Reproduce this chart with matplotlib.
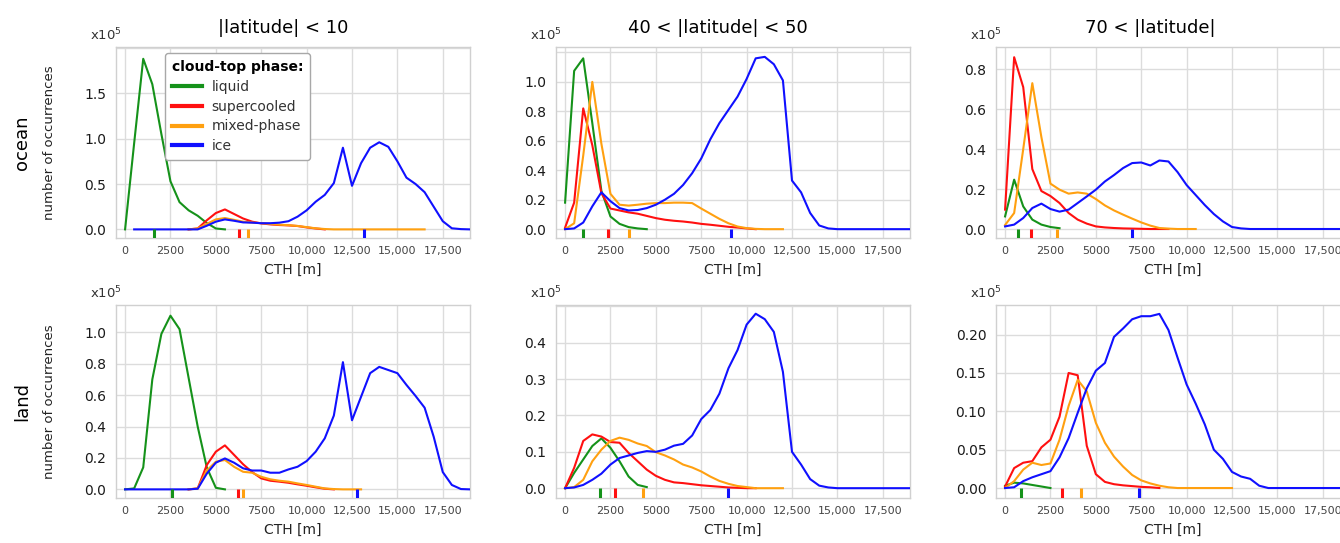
import matplotlib
matplotlib.use("Agg")
import matplotlib.pyplot as plt
import numpy as np
from matplotlib.lines import Line2D

plt.rcParams.update({
    "font.family": "DejaVu Sans",
    "axes.edgecolor": "#d0d0d0",
    "axes.linewidth": 1.0,
})

BIN = 500  # CTH bin width [m]
PHASES = ["liquid", "supercooled", "mixed-phase", "ice"]
COLORS = {"liquid": "#15921a", "supercooled": "#ff1010", "mixed-phase": "#ffa010", "ice": "#1010ff"}

COL_TITLES = ["|latitude| < 10", "40 < |latitude| < 50", "70 < |latitude|"]
ROW_NAMES = ["ocean", "land"]
XTICKS = [0, 2500, 5000, 7500, 10000, 12500, 15000, 17500]
XTICK_LABELS = ["0", "2500", "5000", "7500", "10,000", "12,500", "15,000", "17,500"]

# (first bin [m], occurrences per bin in units of 1e5)
ocean_eq = {
    "liquid": (0, [0, 0.95, 1.88, 1.60, 1.05, 0.53, 0.30, 0.21, 0.15, 0.07, 0.01, 0.0]),
    "supercooled": (3500, [0, 0.01, 0.10, 0.18, 0.22, 0.17, 0.12, 0.085, 0.066, 0.055, 0.048,
                           0.044, 0.037, 0.022, 0.01, 0.0]),
    "mixed-phase": (3500, [0, 0.01, 0.06, 0.11, 0.125, 0.105, 0.085, 0.075, 0.068, 0.06, 0.052,
                           0.046, 0.038, 0.025, 0.012, 0.004, 0, 0, 0, 0, 0, 0, 0, 0, 0, 0, 0]),
    "ice": (500, [0, 0, 0, 0, 0, 0, 0, 0, 0.04, 0.085, 0.11, 0.095, 0.077, 0.074, 0.068, 0.068,
                  0.074, 0.09, 0.14, 0.21, 0.305, 0.38, 0.51, 0.90, 0.48, 0.73, 0.90, 0.96, 0.91,
                  0.75, 0.57, 0.50, 0.41, 0.25, 0.09, 0.012, 0.003, 0.0]),
}
ocean_mid = {
    "liquid": (0, [0.18, 1.075, 1.16, 0.72, 0.26, 0.086, 0.036, 0.014, 0.005, 0.0]),
    "supercooled": (0, [0.01, 0.18, 0.82, 0.57, 0.245, 0.14, 0.127, 0.114, 0.105, 0.09, 0.075,
                        0.064, 0.057, 0.052, 0.045, 0.036, 0.03, 0.023, 0.016, 0.011, 0.005, 0.0]),
    "mixed-phase": (0, [0, 0.04, 0.5, 1.0, 0.58, 0.24, 0.166, 0.16, 0.166, 0.173, 0.177, 0.177,
                        0.18, 0.18, 0.177, 0.14, 0.105, 0.07, 0.04, 0.018, 0.007, 0.002, 0, 0, 0]),
    "ice": (0, [0, 0.005, 0.045, 0.155, 0.25, 0.19, 0.143, 0.127, 0.13, 0.143, 0.166, 0.2, 0.24,
                0.30, 0.38, 0.48, 0.61, 0.72, 0.81, 0.9, 1.02, 1.16, 1.17, 1.12, 1.01, 0.33, 0.25,
                0.11, 0.025, 0.005, 0, 0, 0, 0, 0, 0, 0, 0, 0]),
}
ocean_pol = {
    "liquid": (0, [0.063, 0.247, 0.113, 0.047, 0.022, 0.01, 0.004]),
    "supercooled": (0, [0.097, 0.86, 0.71, 0.30, 0.19, 0.165, 0.13, 0.08, 0.047, 0.027, 0.013,
                        0.008, 0.005, 0.003, 0.002, 0.001, 0.0, 0.0, 0.0]),
    "mixed-phase": (0, [0.02, 0.08, 0.40, 0.73, 0.46, 0.227, 0.197, 0.177, 0.183, 0.177, 0.15,
                        0.118, 0.093, 0.072, 0.052, 0.033, 0.017, 0.005, 0.002, 0.0, 0.0, 0.0]),
    "ice": (0, [0.013, 0.022, 0.055, 0.105, 0.127, 0.10, 0.087, 0.097, 0.13, 0.163, 0.197, 0.238,
                0.27, 0.305, 0.33, 0.333, 0.318, 0.343, 0.338, 0.285, 0.22, 0.17, 0.12, 0.075,
                0.038, 0.01, 0.003, 0, 0, 0, 0, 0, 0, 0, 0, 0, 0, 0, 0]),
}
land_eq = {
    "liquid": (0, [0, 0.006, 0.14, 0.70, 0.99, 1.106, 1.02, 0.71, 0.40, 0.14, 0.01, 0.0]),
    "supercooled": (3500, [0, 0.006, 0.155, 0.24, 0.28, 0.22, 0.16, 0.11, 0.07, 0.055, 0.049,
                           0.042, 0.032, 0.023, 0.013, 0.004, 0.0]),
    "mixed-phase": (3500, [0, 0.006, 0.12, 0.176, 0.187, 0.144, 0.112, 0.106, 0.08, 0.064, 0.055,
                           0.049, 0.038, 0.028, 0.017, 0.006, 0.002, 0.0, 0.0, 0.0]),
    "ice": (0, [0, 0, 0, 0, 0, 0, 0, 0, 0.004, 0.10, 0.17, 0.197, 0.17, 0.134, 0.12, 0.12, 0.106,
                0.106, 0.127, 0.144, 0.18, 0.24, 0.325, 0.47, 0.81, 0.44, 0.59, 0.74, 0.78, 0.76,
                0.74, 0.665, 0.595, 0.52, 0.335, 0.11, 0.028, 0.002, 0.0]),
}
land_mid = {
    "liquid": (0, [0, 0.042, 0.079, 0.116, 0.137, 0.111, 0.074, 0.032, 0.009, 0.003]),
    "supercooled": (0, [0, 0.056, 0.13, 0.148, 0.142, 0.127, 0.125, 0.097, 0.074, 0.051, 0.034,
                        0.023, 0.016, 0.014, 0.011, 0.008, 0.006, 0.004, 0.002, 0.001, 0.0, 0.0]),
    "mixed-phase": (0, [0, 0.003, 0.023, 0.074, 0.106, 0.13, 0.139, 0.133, 0.123, 0.116, 0.099,
                        0.09, 0.079, 0.065, 0.057, 0.046, 0.032, 0.02, 0.012, 0.006, 0.003,
                        0, 0, 0, 0]),
    "ice": (0, [0, 0.002, 0.009, 0.023, 0.04, 0.065, 0.083, 0.09, 0.097, 0.102, 0.1, 0.106, 0.117,
                0.122, 0.145, 0.19, 0.215, 0.26, 0.33, 0.38, 0.45, 0.48, 0.465, 0.43, 0.32, 0.10,
                0.065, 0.025, 0.007, 0.002, 0, 0, 0, 0, 0, 0, 0, 0, 0]),
}
land_pol = {
    "liquid": (0, [0.003, 0.007, 0.006, 0.004, 0.002, 0.0]),
    "supercooled": (0, [0.002, 0.026, 0.033, 0.035, 0.053, 0.063, 0.093, 0.15, 0.147, 0.055,
                        0.018, 0.008, 0.005, 0.0035, 0.0025, 0.0015, 0.001, 0.0]),
    "mixed-phase": (0, [0, 0.009, 0.024, 0.033, 0.03, 0.032, 0.063, 0.107, 0.141, 0.126, 0.085,
                        0.059, 0.041, 0.028, 0.017, 0.01, 0.006, 0.003, 0.001, 0, 0, 0, 0, 0, 0, 0]),
    "ice": (0, [0, 0.001, 0.009, 0.014, 0.018, 0.022, 0.04, 0.065, 0.098, 0.13, 0.153, 0.163,
                0.197, 0.208, 0.22, 0.224, 0.224, 0.227, 0.206, 0.17, 0.135, 0.11, 0.083, 0.05,
                0.038, 0.021, 0.015, 0.012, 0.003, 0, 0, 0, 0, 0, 0, 0, 0, 0, 0]),
}

# median CTH [m] per phase: liquid, supercooled, mixed-phase, ice
medians_ocean = [[1600, 6300, 6750, 13150], [1000, 2350, 3500, 9150], [700, 1450, 2850, 7000]]
medians_land = [[2600, 6200, 6500, 12800], [1900, 2750, 4300, 9000], [900, 3150, 4200, 7400]]

panels = [[ocean_eq, ocean_mid, ocean_pol], [land_eq, land_mid, land_pol]]
medians = [medians_ocean, medians_land]

# y-axis: limits, grid ticks, decimals of tick labels, ticks left unlabelled at top
ylims = [[(-0.095, 2.01), (-0.06, 1.237), (-0.045, 0.911)],
         [(-0.055, 1.174), (-0.027, 0.504), (-0.013, 0.2386)]]
yticks = [[[0, 0.5, 1.0, 1.5, 2.0], [0, 0.2, 0.4, 0.6, 0.8, 1.0, 1.2], [0, 0.2, 0.4, 0.6, 0.8]],
          [[0, 0.2, 0.4, 0.6, 0.8, 1.0], [0, 0.1, 0.2, 0.3, 0.4, 0.5], [0, 0.05, 0.10, 0.15, 0.20]]]
ydecimals = [[1, 1, 1], [1, 1, 2]]
yhidden = [[2.0, 1.2, None], [None, 0.5, None]]

W, H = 1340, 543
fig = plt.figure(figsize=(W / 100, H / 100), dpi=100)

lefts = [116, 556, 996]
rows = [(47, 238), (305, 498)]
title_x = [0.472, 0.457, 0.435]

for r in range(2):
    top, bottom = rows[r]
    for c in range(3):
        ax = fig.add_axes([lefts[c] / W, 1 - bottom / H, 354 / W, (bottom - top) / H])
        data = panels[r][c]
        for phase in PHASES:
            start, vals = data[phase]
            x = start + BIN * np.arange(len(vals))
            ax.plot(x, vals, color=COLORS[phase], lw=1.5, zorder=3)

        lo, hi = ylims[r][c]
        for phase, med in zip(PHASES, medians[r][c]):
            ax.vlines(med, lo, 0, color=COLORS[phase], lw=2.2, zorder=4)

        ax.set_xlim(-500, 19000)
        ax.set_ylim(lo, hi)
        ax.set_xticks(XTICKS)
        ax.set_xticklabels(XTICK_LABELS)
        ticks = yticks[r][c]
        fmt = "{:.%df}" % ydecimals[r][c]
        ax.set_yticks(ticks)
        ax.set_yticklabels(["" if t == yhidden[r][c] else fmt.format(t) for t in ticks])
        ax.tick_params(axis="x", length=0, pad=6, labelsize=8, labelcolor="#444444")
        ax.tick_params(axis="y", length=0, pad=7, labelsize=10, labelcolor="#1a1a1a")
        ax.grid(True, color="#dcdcdc", lw=1.0)
        ax.set_axisbelow(True)
        ax.set_xlabel("CTH [m]", fontsize=10, color="#222222", labelpad=5)

        ax.annotate(r"x10$^{5}$", xy=(0, 1), xycoords="axes fraction",
                    xytext=(-26, 4), textcoords="offset pixels",
                    ha="left", va="bottom", fontsize=9.5, color="#333333")

        if r == 0:
            ax.text(title_x[c], 1.0 + 14 / (bottom - top), COL_TITLES[c],
                    transform=ax.transAxes, ha="center", va="baseline", fontsize=13)
        if c == 0:
            ax.set_ylabel("number of occurrences", fontsize=9.5, color="#222222")
            ax.yaxis.set_label_coords(-0.17, 0.5)
            fig.text(22 / W, 1 - ((top + bottom) / 2) / H, ROW_NAMES[r],
                     rotation=90, ha="center", va="center", fontsize=13)

        if r == 0 and c == 0:
            handles = [Line2D([], [], color=COLORS[p], lw=3) for p in PHASES]
            leg = ax.legend(handles, PHASES, title="cloud-top phase:", loc="upper left",
                            bbox_to_anchor=(0.138, 0.969), borderaxespad=0, fontsize=10,
                            title_fontproperties={"weight": "bold", "size": 10},
                            alignment="left", frameon=True, fancybox=True, framealpha=1,
                            edgecolor="#a8a8a8", handlelength=2.2, handletextpad=0.65,
                            labelspacing=0.42, borderpad=0.5)
            for t in leg.get_texts():
                t.set_color("#333333")
            leg.set_zorder(10)

fig.savefig("out.png", dpi=100, facecolor="white")
